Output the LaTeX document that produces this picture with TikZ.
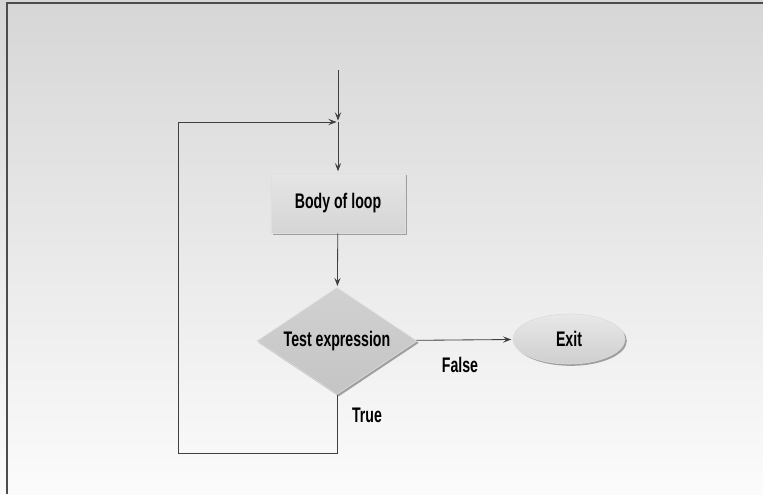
\documentclass[tikz,border=0pt]{standalone}
\usepackage{fontspec}
\setmainfont{Liberation Sans}[FakeStretch=0.67]
\usetikzlibrary{shapes.geometric,arrows.meta,shadows,positioning}
\begin{document}
\begin{tikzpicture}[x=0.025cm,y=-0.025cm,
	font=\bfseries\fontsize{15}{17}\selectfont,
	flow/.style={draw=black!75, line width=0.6pt},
	tip/.style={-{Stealth[length=6pt,width=4.5pt,inset=2.5pt]}, shorten >=1pt},
	bevel/.style={drop shadow={shadow xshift=1.3pt, shadow yshift=-1.3pt, fill=gray!75, opacity=1}},
	stepbox/.style={rectangle, minimum width=3.35cm, minimum height=1.5cm,
		top color=gray!20, bottom color=gray!33, draw=gray!25, bevel},
	testbox/.style={diamond, aspect=1.5, inner sep=0pt, minimum width=4cm, minimum height=2.675cm,
		top color=gray!36, bottom color=gray!46, draw=gray!25, bevel},
	exitbox/.style={ellipse, inner sep=0pt, minimum width=2.8cm, minimum height=1.25cm,
		top color=gray!18, bottom color=gray!38, draw=gray!28, bevel},
	label/.style={inner sep=1pt}]
	\useasboundingbox (0,0) rectangle (763,494);
	\shade[top color=gray!32, bottom color=gray!3] (0,0) rectangle (763,494);
	\draw[black!70, line width=0.8pt] (7,494) -- (7,3) -- (763,3);

	\coordinate(start) at (338,70);
	\coordinate(join) at (338,122);
	\coordinate(topleft) at (178,122);
	\coordinate(botleft) at (178,453);

	\node(body) [stepbox] at (338,203) {Body of loop};
	\node(test) [testbox] at (337,341) {Test expression};
	\node(exit) [exitbox] at (569,339) {Exit};
	\node(false) [label] at (460,365) {False};
	\node(true) [label] at (367,415) {True};

	\draw[flow,tip] (start) -- (join);
	\draw[flow,tip] (join) -- (body);
	\draw[flow,tip] (body) -- (test);
	\draw[flow,tip] (test) -- (exit);
	\draw[flow,tip] (test.south) |- (botleft) -- (topleft) -- (join);
\end{tikzpicture}
\end{document}
